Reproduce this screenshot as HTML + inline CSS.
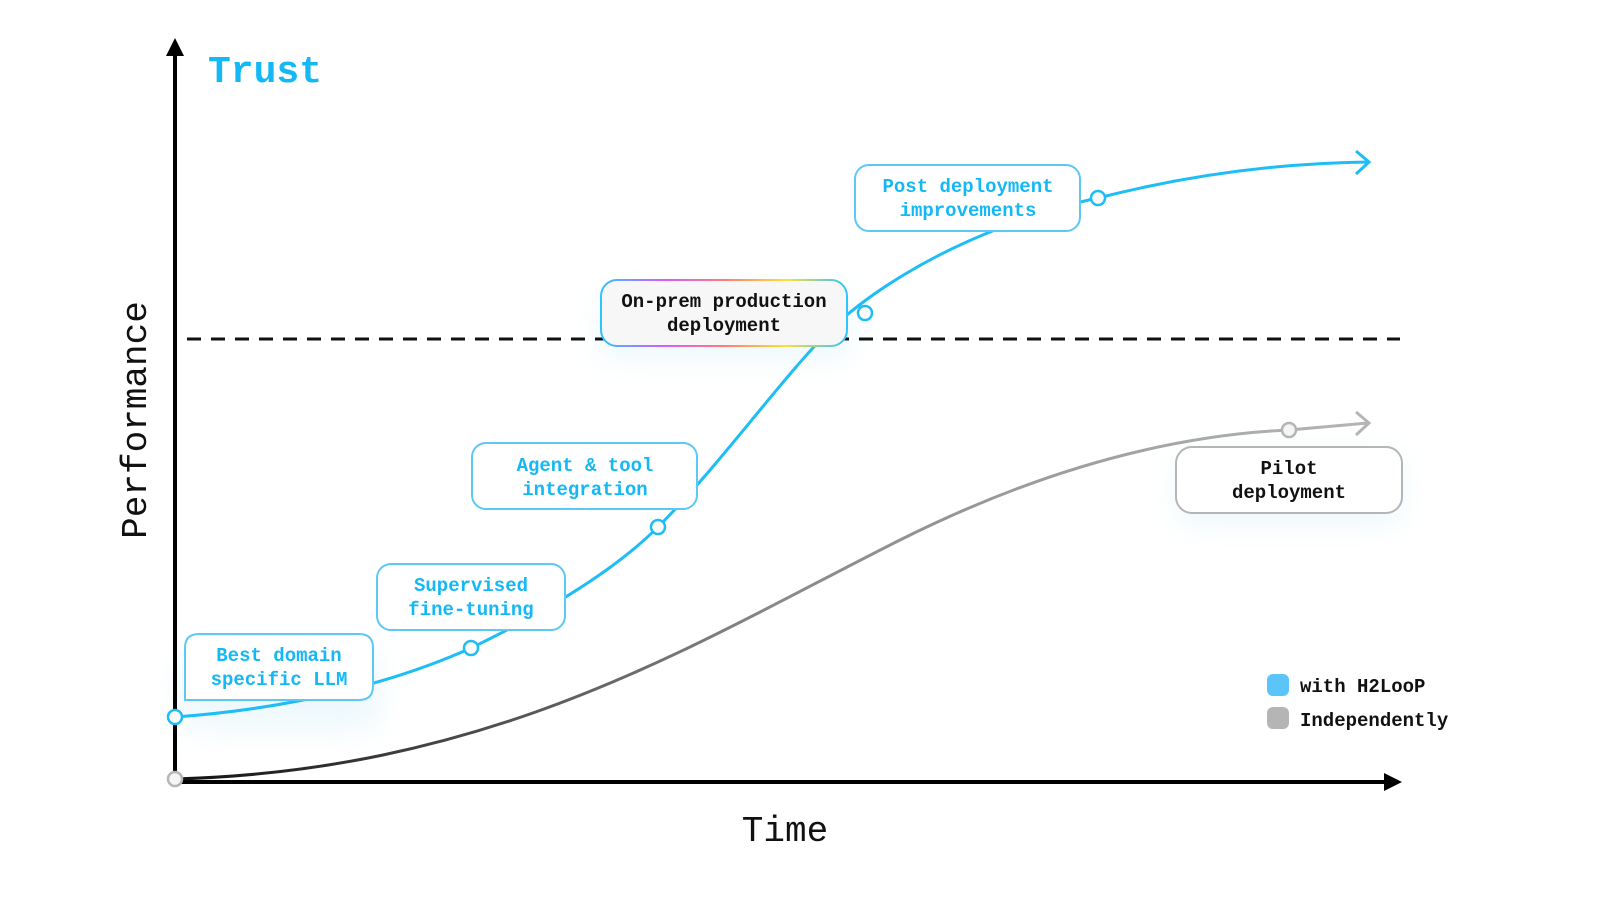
<!DOCTYPE html>
<html><head><meta charset="utf-8"><style>
html,body{margin:0;padding:0;background:#fff;}
svg{display:block;}
text{font-family:"Liberation Mono",monospace;}
</style></head><body>
<svg width="1600" height="900" viewBox="0 0 1600 900" xmlns="http://www.w3.org/2000/svg">
<defs>
<linearGradient id="gray" x1="175" y1="0" x2="1370" y2="0" gradientUnits="userSpaceOnUse">
<stop offset="0" stop-color="#111"/><stop offset="0.5" stop-color="#888"/><stop offset="1" stop-color="#b5b5b5"/>
</linearGradient>
<linearGradient id="rb" x1="0" y1="0" x2="1" y2="0">
<stop offset="0" stop-color="#2ec5ff"/><stop offset="0.25" stop-color="#d65cff"/><stop offset="0.5" stop-color="#ff7a7a"/><stop offset="0.75" stop-color="#ffe033"/><stop offset="1" stop-color="#2ec5ff"/>
</linearGradient>
<filter id="glow" x="-30%" y="-50%" width="160%" height="200%"><feGaussianBlur stdDeviation="14"/></filter>
</defs>
<g fill="#e3f4fa" opacity="0.6" filter="url(#glow)">
<rect x="600" y="290" width="250" height="70" rx="20"/>
<rect x="1176" y="455" width="226" height="70" rx="20"/>
<rect x="180" y="650" width="200" height="80" rx="20"/>
</g>
<line x1="187" y1="339" x2="1400" y2="339" stroke="#111" stroke-width="3" stroke-dasharray="14,10"/>
<line x1="175" y1="52" x2="175" y2="782" stroke="#000" stroke-width="4"/>
<polygon points="175,38 166,56 184,56" fill="#000"/>
<line x1="175" y1="782" x2="1386" y2="782" stroke="#000" stroke-width="4"/>
<polygon points="1402,782 1384,773 1384,791" fill="#000"/>
<path d="M175,779 C500,770 700,640 900,540 C1050,465 1180,435 1289,430 L1368,423" fill="none" stroke="url(#gray)" stroke-width="3"/>
<path d="M1356,412 L1369,423 L1356,435" fill="none" stroke="#b5b5b5" stroke-width="3"/>
<path d="M175,717 C300,708 400,680 471,648 C560,605 620,565 658,527 C720,465 780,380 830,330 C870,292 930,255 1000,228 C1060,205 1098,198 1098,198 C1200,172 1290,163 1368,162" fill="none" stroke="#1ebdf5" stroke-width="3"/>
<path d="M1356,151 L1369,162 L1356,174" fill="none" stroke="#1ebdf5" stroke-width="3"/>
<g font-size="19" text-anchor="middle" font-weight="bold">
<path d="M185,700 L185,648 Q185,634 199,634 L359,634 Q373,634 373,648 L373,686 Q373,700 359,700 Z" fill="#fff" stroke="#5cc8f5" stroke-width="2"/>
<text x="279" y="661" fill="#14b8f5">Best domain</text><text x="279" y="685" fill="#14b8f5">specific LLM</text>
<rect x="377" y="564" width="188" height="66" rx="14" fill="#fff" stroke="#5cc8f5" stroke-width="2"/>
<text x="471" y="591" fill="#14b8f5">Supervised</text><text x="471" y="615" fill="#14b8f5">fine-tuning</text>
<rect x="472" y="443" width="225" height="66" rx="14" fill="#fff" stroke="#5cc8f5" stroke-width="2"/>
<text x="585" y="471" fill="#14b8f5">Agent &amp; tool</text><text x="585" y="495" fill="#14b8f5">integration</text>
<rect x="601" y="280" width="246" height="66" rx="16" fill="#f7f7f7" stroke="url(#rb)" stroke-width="2"/>
<text x="724" y="307" fill="#111">On-prem production</text><text x="724" y="331" fill="#111">deployment</text>
<rect x="855" y="165" width="225" height="66" rx="14" fill="#fff" stroke="#5cc8f5" stroke-width="2"/>
<text x="968" y="192" fill="#14b8f5">Post deployment</text><text x="968" y="216" fill="#14b8f5">improvements</text>
<rect x="1176" y="447" width="226" height="66" rx="16" fill="#fff" stroke="#b5b5b5" stroke-width="2"/>
<text x="1289" y="474" fill="#111">Pilot</text><text x="1289" y="498" fill="#111">deployment</text>
</g>
<g fill="#fafafa" stroke="#1ebdf5" stroke-width="2.5">
<circle cx="175" cy="717" r="7"/><circle cx="471" cy="648" r="7"/><circle cx="658" cy="527" r="7"/><circle cx="865" cy="313" r="7"/><circle cx="1098" cy="198" r="7"/>
</g>
<g fill="#f5f5f5" stroke="#b5b5b5" stroke-width="2.5">
<circle cx="175" cy="779" r="7"/><circle cx="1289" cy="430" r="7"/>
</g>
<text x="208" y="82" font-size="38" font-weight="bold" fill="#14b8f5">Trust</text>
<text transform="translate(146,420) rotate(-90)" text-anchor="middle" font-size="36" fill="#111">Performance</text>
<text x="785" y="841" text-anchor="middle" font-size="36" fill="#111">Time</text>
<rect x="1267" y="674" width="22" height="22" rx="6" fill="#5bc4f8"/>
<rect x="1267" y="707" width="22" height="22" rx="6" fill="#b5b5b5"/>
<text x="1300" y="692" font-size="19" font-weight="bold" fill="#111">with H2LooP</text>
<text x="1300" y="726" font-size="19" font-weight="bold" fill="#111">Independently</text>
</svg>
</body></html>
